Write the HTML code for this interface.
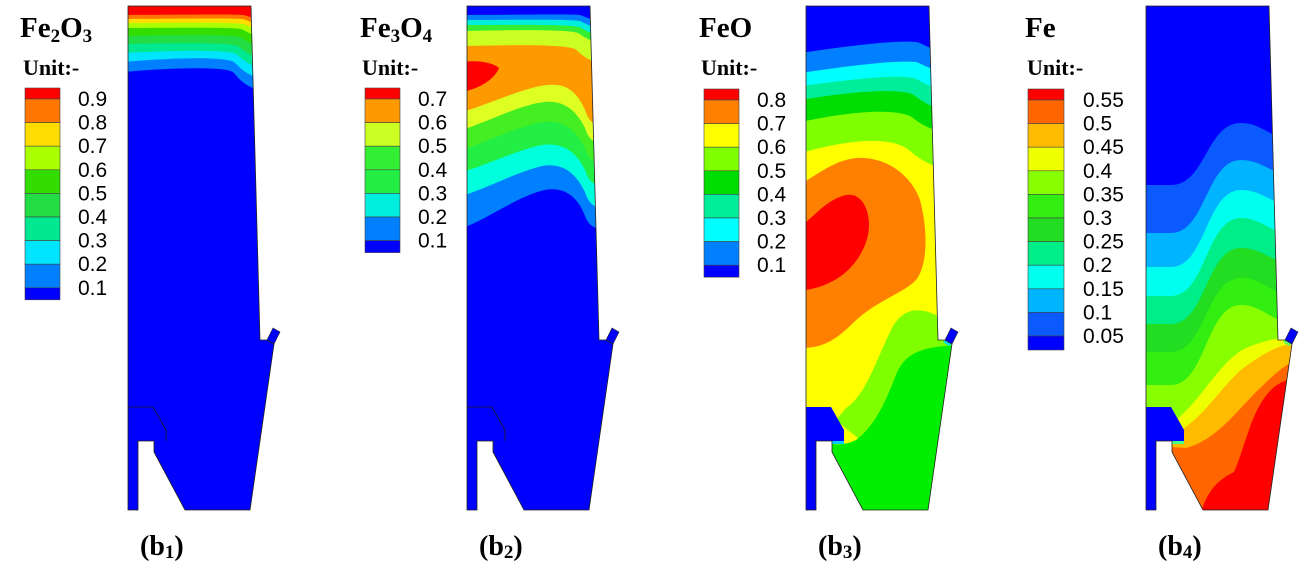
<!DOCTYPE html>
<html><head><meta charset="utf-8"><style>
html,body{margin:0;padding:0;background:#fff;width:1302px;height:570px;overflow:hidden;}
svg{display:block;}
.t{font-family:"Liberation Serif",serif;font-weight:bold;fill:#000;}
.n{font-family:"Liberation Sans",sans-serif;font-size:21px;fill:#000;}
</style></head><body>
<svg width="1302" height="570" viewBox="0 0 1302 570" xmlns="http://www.w3.org/2000/svg">
<defs>
<clipPath id="sh"><path d="M0,6 L123,6 L132,340 L139,340 L146,344 L122,510 L57,510 L26,452 L26,441 L10,441 L10,510 L0,510 Z"/></clipPath>
</defs>

<!-- Panel 1 Fe2O3 -->
<g transform="translate(128,0)">
<g clip-path="url(#sh)">
<rect x="-5" y="0" width="170" height="530" fill="#ff0000"/>
<path d="M-5,15 C40,15 100,14 115,15 C122,16 124,20 170,24 L170,600 L-5,600Z" fill="#ff7700"/>
<path d="M-5,19 C40,19 100,18 115,19 C122,21 124,25 170,30 L170,600 L-5,600Z" fill="#ffdd00"/>
<path d="M-5,23 C40,23 100,22 115,24 C122,26 124,31 170,36 L170,600 L-5,600Z" fill="#aaff00"/>
<path d="M-5,28 C40,28 100,27 113,29 C121,32 124,38 170,44 L170,600 L-5,600Z" fill="#33dd00"/>
<path d="M-5,36 C40,35 100,34 112,37 C120,41 124,48 170,54 L170,600 L-5,600Z" fill="#22dd44"/>
<path d="M-5,44 C40,43 100,42 110,46 C118,52 123,60 170,66 L170,600 L-5,600Z" fill="#00e890"/>
<path d="M-5,53 C40,51 95,49 108,54 C116,60 121,70 170,76 L170,600 L-5,600Z" fill="#00e5ff"/>
<path d="M-5,62 C40,58 95,56 106,62 C115,70 120,80 170,88 L170,600 L-5,600Z" fill="#0080ff"/>
<path d="M-5,72 C40,68 95,66 105,72 C114,82 119,92 170,98 L170,600 L-5,600Z" fill="#0000ff"/>
</g>
<path d="M139,340 L145,328 L152,332 L146,344 Z" fill="#0000ff" stroke="#222" stroke-width="0.6"/>
<path d="M0,407 L25,407 L38,430 L38,441" fill="none" stroke="#222" stroke-width="0.8"/>
<path d="M0,6 L123,6 L132,340 L139,340 L146,344 L122,510 L57,510 L26,452 L26,441 L10,441 L10,510 L0,510 Z" fill="none" stroke="#222" stroke-width="0.8"/>
</g>

<!-- Panel 2 Fe3O4 -->
<g transform="translate(467,0)">
<g clip-path="url(#sh)">
<rect x="-5" y="0" width="170" height="530" fill="#0000ff"/>
<path d="M-5,15 C40,15 100,14 113,15 C120,17 123,22 170,26 L170,600 L-5,600Z" fill="#0080ff"/>
<path d="M-5,20 C40,20 100,19 113,21 C120,24 123,29 170,34 L170,600 L-5,600Z" fill="#00eedd"/>
<path d="M-5,25 C40,25 100,24 112,27 C119,30 123,36 170,42 L170,600 L-5,600Z" fill="#33ee33"/>
<path d="M-5,31 C40,30 100,29 111,33 C118,37 122,44 170,50 L170,600 L-5,600Z" fill="#ccff22"/>
<path d="M-5,46 C40,45 95,44 108,49 C116,55 121,65 170,72 L170,600 L-5,600Z" fill="#ff9900"/>
<path d="M-5,62 C10,60 25,62 32,68 C28,78 15,88 -5,92Z" fill="#ff0000"/>
<path d="M-5,112 C20,105 55,88 80,85 C100,83 110,92 118,110 C122,122 126,130 170,135 L170,600 L-5,600Z" fill="#ddff22"/>
<path d="M-5,130 C20,122 55,104 78,102 C98,100 110,112 118,128 C122,140 126,148 170,150 L170,600 L-5,600Z" fill="#44ee22"/>
<path d="M-5,150 C20,142 55,124 78,122 C98,120 110,132 118,148 C122,160 126,168 170,170 L170,600 L-5,600Z" fill="#22ee44"/>
<path d="M-5,172 C20,165 50,150 75,145 C98,142 110,154 118,170 C122,182 126,190 170,192 L170,600 L-5,600Z" fill="#00ffdd"/>
<path d="M-5,196 C20,188 50,172 75,166 C98,162 110,176 118,192 C122,204 126,212 170,214 L170,600 L-5,600Z" fill="#0080ff"/>
<path d="M-5,228 C20,220 50,196 78,190 C100,186 112,200 118,216 C122,226 126,232 170,234 L170,600 L-5,600Z" fill="#0000ff"/>
</g>
<path d="M139,340 L145,328 L152,332 L146,344 Z" fill="#0000ff" stroke="#222" stroke-width="0.6"/>
<path d="M0,407 L25,407 L38,430 L38,441" fill="none" stroke="#222" stroke-width="0.8"/>
<path d="M0,6 L123,6 L132,340 L139,340 L146,344 L122,510 L57,510 L26,452 L26,441 L10,441 L10,510 L0,510 Z" fill="none" stroke="#222" stroke-width="0.8"/>
</g>

<!-- Panel 3 FeO -->
<g transform="translate(806,0)">
<g clip-path="url(#sh)">
<rect x="-5" y="0" width="170" height="530" fill="#0000ff"/>
<path d="M-5,53 C40,46 90,40 110,42 C120,44 123,52 170,58 L170,600 L-5,600Z" fill="#0080ff"/>
<path d="M-5,73 C40,66 90,60 110,62 C120,65 123,72 170,78 L170,600 L-5,600Z" fill="#00ffff"/>
<path d="M-5,86 C40,80 90,74 108,78 C118,82 122,90 170,95 L170,600 L-5,600Z" fill="#00ee99"/>
<path d="M-5,100 C40,92 90,88 106,94 C116,100 121,110 170,115 L170,600 L-5,600Z" fill="#00dd00"/>
<path d="M-5,122 C40,112 85,108 104,116 C116,124 121,132 170,138 L170,600 L-5,600Z" fill="#80ff00"/>
<path d="M-5,153 C40,140 80,136 100,148 C114,158 120,168 170,176 L170,600 L-5,600Z" fill="#ffff00"/>
<path d="M-5,184 C15,172 30,160 50,158 C80,156 105,175 114,200 C122,230 122,265 110,280 C95,295 70,300 45,325 C25,345 10,348 -5,348Z" fill="#ff8000"/>
<path d="M-5,226 C10,215 20,200 40,195 C58,192 66,215 62,235 C57,258 40,275 25,282 C15,287 5,290 -5,290Z" fill="#ff0000"/>
<path d="M170,316 L132,316 C110,305 95,310 85,330 C70,360 60,395 40,408 L30,420 L60,445 L170,420Z" fill="#80ff00"/>
<path d="M170,345 C120,345 100,350 90,375 C80,400 70,425 50,440 C40,445 30,445 20,443 L20,600 L170,600Z" fill="#00ee00"/>
<rect x="-5" y="438" width="15" height="100" fill="#0000ff"/>
</g>
<path d="M0,407 L25,407 L38,430 L38,441 L0,441 Z" fill="#0000ff"/>
<path d="M26,441 L38,441 L38,444 L26,444Z" fill="#00ccff"/>
<path d="M139,340 L145,328 L152,332 L146,344 Z" fill="#0000ff" stroke="#222" stroke-width="0.6"/>
<path d="M139,340 L146,344 L143,346 L137,342Z" fill="#00ddee"/>
<path d="M0,6 L123,6 L132,340 L139,340 L146,344 L122,510 L57,510 L26,452 L26,441 L10,441 L10,510 L0,510 Z" fill="none" stroke="#222" stroke-width="0.8"/>
</g>

<!-- Panel 4 Fe -->
<g transform="translate(1146,0)">
<g clip-path="url(#sh)">
<rect x="-5" y="0" width="170" height="530" fill="#0000ff"/>
<path d="M-5,185 L25,185 C60,185 60,123 95,123 C120,123 128,145 170,145 L170,600 L-5,600Z" fill="#0a5aff"/>
<path d="M-5,233 L25,233 C60,233 60,160 95,160 C120,160 128,180 170,180 L170,600 L-5,600Z" fill="#00b4ff"/>
<path d="M-5,267 L25,267 C60,267 60,190 95,190 C120,190 128,210 170,210 L170,600 L-5,600Z" fill="#00ffee"/>
<path d="M-5,296 L25,296 C60,296 60,218 95,218 C120,218 128,240 170,240 L170,600 L-5,600Z" fill="#00ee88"/>
<path d="M-5,324 L25,324 C60,324 60,248 95,248 C120,248 128,268 170,268 L170,600 L-5,600Z" fill="#22dd22"/>
<path d="M-5,352 L25,352 C60,352 60,278 95,278 C120,278 128,300 170,300 L170,600 L-5,600Z" fill="#33ee11"/>
<path d="M-5,385 L25,385 C60,385 60,305 95,305 C120,305 128,328 170,328 L170,600 L-5,600Z" fill="#88ff00"/>
<path d="M-5,420 L30,420 C55,400 75,360 100,348 C120,340 135,336 170,336 L170,600 L-5,600Z" fill="#eeff00"/>
<path d="M-5,430 L35,430 C60,415 80,380 100,366 C120,352 135,342 170,340 L170,600 L-5,600Z" fill="#ffbb00"/>
<path d="M-5,445 L40,448 C70,440 90,412 110,392 C125,378 140,360 170,352 L170,600 L-5,600Z" fill="#ff6600"/>
<path d="M55,512 C62,490 72,480 88,472 C100,445 105,410 125,390 C132,383 140,378 170,376 L170,600 Z" fill="#ff0000"/>
<rect x="-5" y="438" width="15" height="100" fill="#0000ff"/>
</g>
<path d="M0,407 L25,407 L38,430 L38,441 L0,441 Z" fill="#0000ff"/>
<path d="M26,441 L38,441 L38,444 L26,444Z" fill="#44ff88"/>
<path d="M139,340 L145,328 L152,332 L146,344 Z" fill="#0000ff" stroke="#222" stroke-width="0.6"/>
<path d="M139,340 L146,344 L143,346 L137,342Z" fill="#66ff66"/>
<path d="M0,6 L123,6 L132,340 L139,340 L146,344 L122,510 L57,510 L26,452 L26,441 L10,441 L10,510 L0,510 Z" fill="none" stroke="#222" stroke-width="0.8"/>
</g>

<!-- Legends -->
<g stroke="#444" stroke-width="0.6">
<rect x="25" y="88" width="35" height="11" fill="#ff0000"/>
<rect x="25" y="99" width="35" height="23.6" fill="#ff7700"/>
<rect x="25" y="122.6" width="35" height="23.6" fill="#ffdd00"/>
<rect x="25" y="146.2" width="35" height="23.6" fill="#aaff00"/>
<rect x="25" y="169.8" width="35" height="23.6" fill="#33dd00"/>
<rect x="25" y="193.4" width="35" height="23.6" fill="#22dd44"/>
<rect x="25" y="217" width="35" height="23.6" fill="#00e890"/>
<rect x="25" y="240.6" width="35" height="23.6" fill="#00e5ff"/>
<rect x="25" y="264.2" width="35" height="23.6" fill="#0080ff"/>
<rect x="25" y="287.8" width="35" height="12" fill="#0000ff"/>
<rect x="365" y="88" width="35" height="11" fill="#ff0000"/>
<rect x="365" y="99" width="35" height="23.6" fill="#ff9900"/>
<rect x="365" y="122.6" width="35" height="23.6" fill="#ccff22"/>
<rect x="365" y="146.2" width="35" height="23.6" fill="#33ee33"/>
<rect x="365" y="169.8" width="35" height="23.6" fill="#22ee44"/>
<rect x="365" y="193.4" width="35" height="23.6" fill="#00eedd"/>
<rect x="365" y="217" width="35" height="23.6" fill="#0080ff"/>
<rect x="365" y="240.6" width="35" height="12" fill="#0000ff"/>
<rect x="704" y="89" width="35" height="11" fill="#ff0000"/>
<rect x="704" y="100" width="35" height="23.6" fill="#ff8000"/>
<rect x="704" y="123.6" width="35" height="23.6" fill="#ffff00"/>
<rect x="704" y="147.2" width="35" height="23.6" fill="#80ff00"/>
<rect x="704" y="170.8" width="35" height="23.6" fill="#00dd00"/>
<rect x="704" y="194.4" width="35" height="23.6" fill="#00ee99"/>
<rect x="704" y="218" width="35" height="23.6" fill="#00ffff"/>
<rect x="704" y="241.6" width="35" height="23.6" fill="#0080ff"/>
<rect x="704" y="265.2" width="35" height="12" fill="#0000ff"/>
<rect x="1028" y="89" width="36" height="11" fill="#ff0000"/>
<rect x="1028" y="100" width="36" height="23.6" fill="#ff6600"/>
<rect x="1028" y="123.6" width="36" height="23.6" fill="#ffbb00"/>
<rect x="1028" y="147.2" width="36" height="23.6" fill="#eeff00"/>
<rect x="1028" y="170.8" width="36" height="23.6" fill="#88ff00"/>
<rect x="1028" y="194.4" width="36" height="23.6" fill="#33ee11"/>
<rect x="1028" y="218" width="36" height="23.6" fill="#22dd22"/>
<rect x="1028" y="241.6" width="36" height="23.6" fill="#00ee88"/>
<rect x="1028" y="265.2" width="36" height="23.6" fill="#00ffee"/>
<rect x="1028" y="288.8" width="36" height="23.6" fill="#00b4ff"/>
<rect x="1028" y="312.4" width="36" height="23.6" fill="#0a5aff"/>
<rect x="1028" y="336" width="36" height="14" fill="#0000ff"/>
</g>

<g class="n">
<text x="78" y="106">0.9</text><text x="78" y="129.6">0.8</text><text x="78" y="153.2">0.7</text><text x="78" y="176.8">0.6</text><text x="78" y="200.4">0.5</text><text x="78" y="224">0.4</text><text x="78" y="247.6">0.3</text><text x="78" y="271.2">0.2</text><text x="78" y="294.8">0.1</text>
<text x="418" y="106">0.7</text><text x="418" y="129.6">0.6</text><text x="418" y="153.2">0.5</text><text x="418" y="176.8">0.4</text><text x="418" y="200.4">0.3</text><text x="418" y="224">0.2</text><text x="418" y="247.6">0.1</text>
<text x="757" y="107">0.8</text><text x="757" y="130.6">0.7</text><text x="757" y="154.2">0.6</text><text x="757" y="177.8">0.5</text><text x="757" y="201.4">0.4</text><text x="757" y="225">0.3</text><text x="757" y="248.6">0.2</text><text x="757" y="272.2">0.1</text>
<text x="1083" y="107">0.55</text><text x="1083" y="130.6">0.5</text><text x="1083" y="154.2">0.45</text><text x="1083" y="177.8">0.4</text><text x="1083" y="201.4">0.35</text><text x="1083" y="225">0.3</text><text x="1083" y="248.6">0.25</text><text x="1083" y="272.2">0.2</text><text x="1083" y="295.8">0.15</text><text x="1083" y="319.4">0.1</text><text x="1083" y="343">0.05</text>
</g>

<g class="t">
<text x="20" y="37" font-size="29">Fe<tspan font-size="19" dy="5">2</tspan><tspan dy="-5">O</tspan><tspan font-size="19" dy="5">3</tspan></text>
<text x="360" y="37" font-size="29">Fe<tspan font-size="19" dy="5">3</tspan><tspan dy="-5">O</tspan><tspan font-size="19" dy="5">4</tspan></text>
<text x="699" y="37" font-size="29">FeO</text>
<text x="1025" y="37" font-size="29">Fe</text>
<text x="23" y="75" font-size="22">Unit:-</text>
<text x="362" y="75" font-size="22">Unit:-</text>
<text x="701" y="75" font-size="22">Unit:-</text>
<text x="1027" y="75" font-size="22">Unit:-</text>
<text x="140" y="555" font-size="28">(b<tspan font-size="19" dy="3">1</tspan><tspan dy="-3">)</tspan></text>
<text x="479" y="555" font-size="28">(b<tspan font-size="19" dy="3">2</tspan><tspan dy="-3">)</tspan></text>
<text x="818" y="555" font-size="28">(b<tspan font-size="19" dy="3">3</tspan><tspan dy="-3">)</tspan></text>
<text x="1158" y="555" font-size="28">(b<tspan font-size="19" dy="3">4</tspan><tspan dy="-3">)</tspan></text>
</g>
</svg>
</body></html>
